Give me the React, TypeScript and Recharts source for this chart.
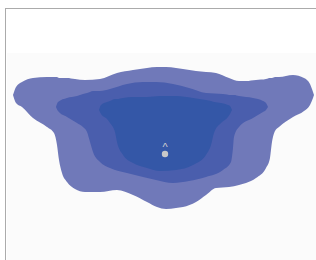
import React from "react";
import { ComposedChart, Area, Scatter, XAxis, YAxis } from "recharts";

// outer contour (x, upper edge, lower edge)
const outerX = [13, 16, 22, 33, 47, 54, 57, 59, 62, 67, 75, 85, 100, 117, 133, 147, 157, 166, 176, 183, 196, 206, 216, 229, 239, 246, 256, 266, 270, 272, 275, 279, 293, 304, 310, 313, 314];
const outerTop = [95, 87, 82, 78, 77, 77, 77, 78, 78, 78, 79, 80, 79, 73, 70, 68, 67, 67, 68, 69, 71, 72, 73, 78, 81, 81, 80, 79, 78, 78, 77, 77, 75, 78, 84, 92, 95];
const outerBottom = [95, 103, 107, 118, 127, 133, 145, 160, 173, 182, 189, 192, 192, 190, 195, 202, 207, 209, 208, 207, 202, 195, 188, 187, 185, 183, 178, 168, 158, 142, 131, 127, 117, 111, 105, 98, 95];

// middle contour
const midX = [56, 58, 67, 77, 83, 87, 90, 93, 100, 110, 127, 143, 156, 173, 189, 206, 223, 231, 233, 234, 239, 253, 263, 266, 268];
const midTop = [107, 102, 98, 96, 94, 93, 92, 91, 91, 89, 84, 82, 82, 84, 88, 93, 94, 95, 95, 95, 96, 98, 101, 103, 107];
const midBottom = [107, 111, 117, 123, 127, 132, 142, 152, 162, 168, 173, 177, 180, 183, 181, 177, 170, 162, 148, 137, 127, 118, 112, 110, 107];

// inner contour
const innerX = [99, 101, 107, 110, 115, 117, 123, 133, 147, 160, 176, 193, 206, 211, 214, 221, 228, 230, 232];
const innerTop = [110, 105, 102, 101, 99, 99, 98, 97, 97, 96, 96, 98, 100, 101, 102, 103, 105, 106, 110];
const innerBottom = [110, 114, 119, 123, 132, 142, 155, 163, 168, 171, 170, 165, 155, 145, 133, 123, 117, 114, 110];

const peak = [{ x: 165, y: 154 }];

const toRows = (xs: number[], top: number[], bottom: number[]) =>
  xs.map((x, i) => ({ x, band: [bottom[i], top[i]] }));

const outerRows = toRows(outerX, outerTop, outerBottom);
const midRows = toRows(midX, midTop, midBottom);
const innerRows = toRows(innerX, innerTop, innerBottom);

const PeakMark = (props: any) => {
  const { cx, cy } = props;
  return (
    <g>
      <circle cx={cx} cy={cy} r={3.2} fill="#c9c9c9" />
      <text x={cx} y={cy - 3} textAnchor="middle" fontSize={11} fill="#d0d0d0" fontFamily="Liberation Sans">
        ^
      </text>
    </g>
  );
};

export default function App() {
  return (
    <div style={{ position: "absolute", left: 0, top: 0, width: 316, height: 260, background: "#ffffff" }}>
      <div style={{ position: "absolute", left: 7, top: 53, right: 0, bottom: 0, background: "#fbfbfb" }} />
      <div
        style={{
          position: "absolute",
          left: 5,
          top: 8,
          right: 0,
          bottom: 0,
          borderTop: "1.5px solid #ababab",
          borderLeft: "1.5px solid #ababab",
        }}
      />
      <div style={{ position: "absolute", left: 0, top: 0 }}>
        <ComposedChart width={316} height={260} margin={{ top: 0, right: 0, bottom: 0, left: 0 }}>
          <XAxis type="number" dataKey="x" domain={[0, 316]} hide allowDuplicatedCategory={false} />
          <YAxis type="number" domain={[0, 260]} reversed hide />
          <Area data={outerRows} dataKey="band" type="monotone" fill="#7079b9" fillOpacity={1} stroke="none" dot={false} activeDot={false} isAnimationActive={false} />
          <Area data={midRows} dataKey="band" type="monotone" fill="#4a5ead" fillOpacity={1} stroke="none" dot={false} activeDot={false} isAnimationActive={false} />
          <Area data={innerRows} dataKey="band" type="monotone" fill="#3457a7" fillOpacity={1} stroke="none" dot={false} activeDot={false} isAnimationActive={false} />
          <Scatter data={peak} dataKey="y" shape={PeakMark} isAnimationActive={false} />
        </ComposedChart>
      </div>
    </div>
  );
}
